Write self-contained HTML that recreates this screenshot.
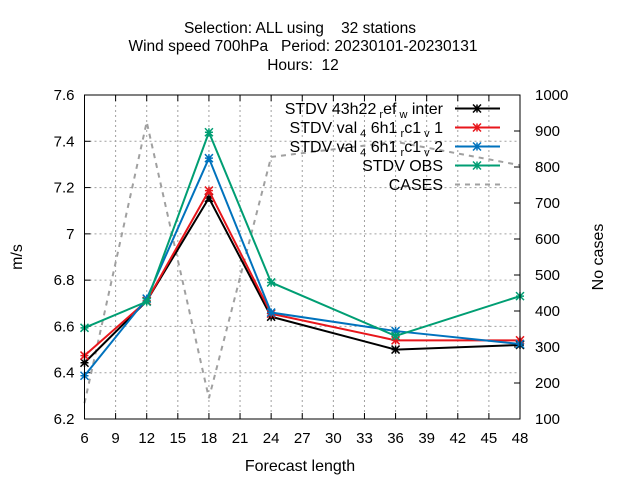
<!DOCTYPE html>
<html><head><meta charset="utf-8"><style>
body{margin:0;background:#fff}
svg{display:block;font-family:"Liberation Sans",sans-serif}
</style></head><body>
<svg id="c" width="640" height="480">
<g font-size="15.5" text-anchor="middle" fill="#000">
<text x="300" y="33" xml:space="preserve">Selection: ALL using    32 stations</text>
<text x="303" y="51" xml:space="preserve">Wind speed 700hPa   Period: 20230101-20230131</text>
<text x="303" y="70" xml:space="preserve">Hours:  12</text>
</g>
<text x="300" y="471" font-size="16" text-anchor="middle">Forecast length</text>
<text x="0" y="0" font-size="16" text-anchor="middle" transform="translate(22,257) rotate(-90)">m/s</text>
<text x="0" y="0" font-size="16" text-anchor="middle" transform="translate(603,257) rotate(-90)">No cases</text>
<g id="grid"></g><g id="axes"></g><g id="series"></g><g id="legend"></g>
<rect x="84.5" y="95" width="435.5" height="324" fill="none" stroke="#000" stroke-width="1"/>
</svg>
<script>
const xs=[6,12,18,24,36,48];
const xTicks=[6,9,12,15,18,21,24,27,30,33,36,39,42,45,48];
const yTicks=[6.2,6.4,6.6,6.8,7,7.2,7.4,7.6];
const y2Ticks=[100,200,300,400,500,600,700,800,900,1000];
const sBlack=[6.443,6.71,7.155,6.642,6.50,6.52];
const sRed=[6.474,6.71,7.187,6.655,6.54,6.54];
const sBlue=[6.387,6.72,7.327,6.66,6.58,6.524];
const sGreen=[6.594,6.707,7.439,6.79,6.559,6.731];
const cases=[144,925,158,828,870,805];
const L=84.5,R=520,T=95,B=419;
const X=v=>L+(v-6)/(48-6)*(R-L);
const Y=v=>B-(v-6.2)/(7.6-6.2)*(B-T);
const Y2=v=>B-(v-100)/(1000-100)*(B-T);
const NS="http://www.w3.org/2000/svg";
function mk(p,t,a){const e=document.createElementNS(NS,t);for(const k in a)e.setAttribute(k,a[k]);p.appendChild(e);return e;}
const grid=document.getElementById('grid'),axes=document.getElementById('axes'),ser=document.getElementById('series'),leg=document.getElementById('legend');
xTicks.forEach(t=>{const x=X(t);
 if(t!==6&&t!==48){const g=mk(grid,'line',{x1:x,x2:x,y1:T,y2:B,stroke:'#a0a0a0','stroke-dasharray':'2,3','stroke-width':1});
 
 }
 mk(axes,'line',{x1:x,x2:x,y1:B,y2:B-6,stroke:'#000'});mk(axes,'line',{x1:x,x2:x,y1:T,y2:T+6,stroke:'#000'});
 const tx=mk(axes,'text',{x:x,y:B+24,'font-size':15,'text-anchor':'middle'});tx.textContent=t;
 
 });
yTicks.forEach(t=>{const y=Y(t);
 if(t>6.2&&t<7.6){const g=mk(grid,'line',{x1:L,x2:R,y1:y,y2:y,stroke:'#a0a0a0','stroke-dasharray':'2,3','stroke-width':1});
 
 }
 mk(axes,'line',{x1:L,x2:L+6,y1:y,y2:y,stroke:'#000'});
 const tx=mk(axes,'text',{x:L-10,y:y+5,'font-size':15,'text-anchor':'end'});tx.textContent=(t===7?'7':t.toFixed(1));
 
 });
y2Ticks.forEach(t=>{const y=Y2(t);
 mk(axes,'line',{x1:R,x2:R-6,y1:y,y2:y,stroke:'#000'});
 const tx=mk(axes,'text',{x:R+15,y:y+5,'font-size':15});tx.textContent=t;
 
 });
const cp=mk(ser,'polyline',{points:xs.map((x,i)=>X(x)+','+Y2(cases[i])).join(' '),fill:'none',stroke:'#a0a0a0','stroke-width':2,'stroke-dasharray':'5,5'});


function star(g,x,y,c){const s=4;
 mk(g,'path',{d:`M${x-s} ${y}H${x+s}M${x} ${y-s}V${y+s}M${x-s} ${y-s}L${x+s} ${y+s}M${x-s} ${y+s}L${x+s} ${y-s}`,stroke:c,'stroke-width':1.5,fill:'none'});}
const series=[[sBlack,'#000','stdv-43h22'],[sRed,'#e8161b','stdv-val-c1v1'],[sBlue,'#0072bd','stdv-val-c1v2'],[sGreen,'#009e73','stdv-obs']];
series.forEach(([d,c,n])=>{const g=mk(ser,'g',{});
 
 
 mk(g,'polyline',{points:xs.map((x,i)=>X(x)+','+Y(d[i])).join(' '),fill:'none',stroke:c,'stroke-width':2});
 xs.forEach((x,i)=>star(g,X(x),Y(d[i]),c));});
const labels=[
 'STDV 43h22<tspan font-size="11" dy="4"> r</tspan><tspan dy="-4">ef</tspan><tspan font-size="11" dy="4"> w</tspan><tspan dy="-4"> inter</tspan>',
 'STDV val<tspan font-size="11" dy="4"> 4</tspan><tspan dy="-4"> 6h1</tspan><tspan font-size="11" dy="4"> r</tspan><tspan dy="-4">c1</tspan><tspan font-size="11" dy="4"> v</tspan><tspan dy="-4"> 1</tspan>',
 'STDV val<tspan font-size="11" dy="4"> 4</tspan><tspan dy="-4"> 6h1</tspan><tspan font-size="11" dy="4"> r</tspan><tspan dy="-4">c1</tspan><tspan font-size="11" dy="4"> v</tspan><tspan dy="-4"> 2</tspan>',
 'STDV OBS','CASES'];
const lcol=['#000','#e8161b','#0072bd','#009e73','#a0a0a0'];
labels.forEach((l,i)=>{const y=108.5+i*19;const g=mk(leg,'g',{});
 
 
 const t=mk(g,'text',{x:443,y:y+5.5,'font-size':16,'text-anchor':'end'});t.innerHTML=l;
 if(i<4){mk(g,'line',{x1:455,x2:500,y1:y,y2:y,stroke:lcol[i],'stroke-width':2});star(g,477,y,lcol[i]);}
 else mk(g,'line',{x1:455,x2:500,y1:y,y2:y,stroke:lcol[i],'stroke-width':2,'stroke-dasharray':'5,5'});});
</script>
</body></html>
